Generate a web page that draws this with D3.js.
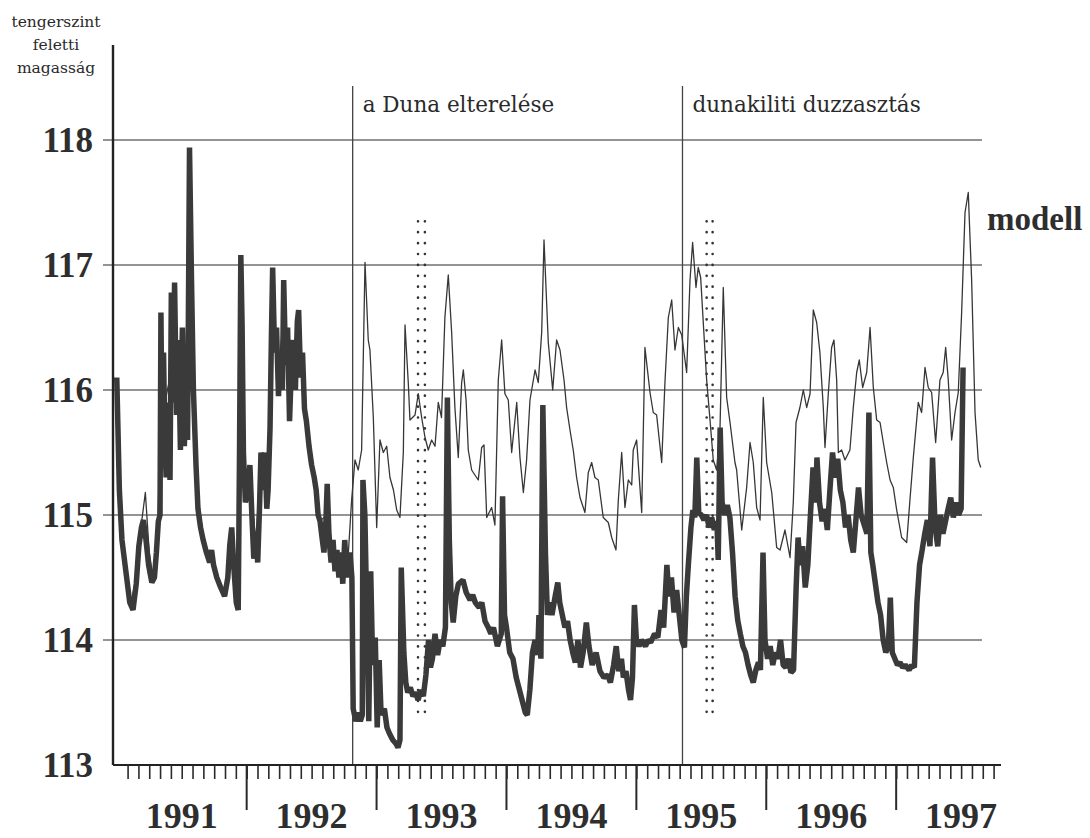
<!DOCTYPE html>
<html>
<head>
<meta charset="utf-8">
<script src="https://cdn.jsdelivr.net/npm/d3@7"></script>
<style>
  body { margin: 0; background: #fff; }
  svg { display: block; }
</style>
</head>
<body>
<svg id="chart" width="1090" height="838"></svg>
<script>
// Groundwater level (m above sea level), decimal-year time axis
const levelTicks = [113, 114, 115, 116, 117, 118];
const years = [1991, 1992, 1993, 1994, 1995, 1996, 1997];
const events = [
  { t: 1992.816, label: "a Duna elterelése" },
  { t: 1995.355, label: "dunakiliti duzzasztás" }
];
const markerPairs = [[1993.319, 1993.372], [1995.541, 1995.587]];
const markerRange = [113.35, 117.35];
const seriesLabel = "modell";
const axisTitle = ["tengerszint", "feletti", "magasság"];

// measured levels [decimal year, m]
const measured = [
  [1991.00,116.10],[1991.02,115.20],[1991.04,114.80],[1991.07,114.55],[1991.10,114.30],[1991.125,114.24],
  [1991.15,114.45],[1991.17,114.75],[1991.19,114.90],[1991.205,114.96],[1991.225,114.80],[1991.245,114.60],
  [1991.27,114.46],[1991.29,114.50],[1991.305,114.70],[1991.32,114.95],[1991.333,115.00],[1991.34,116.62],
  [1991.35,115.40],[1991.36,116.30],[1991.37,115.60],[1991.38,115.30],[1991.395,115.90],[1991.41,115.28],
  [1991.42,116.78],[1991.435,115.90],[1991.445,116.86],[1991.46,115.80],[1991.475,116.40],[1991.49,115.52],
  [1991.505,116.50],[1991.52,115.55],[1991.535,116.00],[1991.545,115.60],[1991.56,117.94],[1991.575,116.90],
  [1991.59,116.00],[1991.61,115.40],[1991.625,115.05],[1991.645,114.90],[1991.665,114.80],[1991.69,114.70],
  [1991.715,114.62],[1991.73,114.72],[1991.745,114.60],[1991.77,114.50],[1991.80,114.42],[1991.83,114.35],
  [1991.855,114.50],[1991.87,114.76],[1991.885,114.90],[1991.90,114.60],[1991.92,114.30],[1991.935,114.24],
  [1991.945,115.50],[1991.955,117.08],[1991.965,116.50],[1991.975,115.50],[1991.99,115.10],[1992.01,115.20],
  [1992.025,115.40],[1992.04,115.00],[1992.055,114.65],[1992.07,114.85],[1992.085,114.62],[1992.10,115.10],
  [1992.11,115.50],[1992.125,115.20],[1992.14,115.50],[1992.155,115.05],[1992.165,115.20],[1992.18,115.70],
  [1992.19,116.40],[1992.20,116.98],[1992.215,116.30],[1992.23,116.50],[1992.245,115.95],[1992.26,116.30],
  [1992.275,116.00],[1992.285,116.88],[1992.30,116.20],[1992.315,116.50],[1992.33,115.75],[1992.345,116.20],
  [1992.36,116.40],[1992.375,116.00],[1992.39,116.55],[1992.40,116.64],[1992.415,116.10],[1992.43,116.30],
  [1992.445,115.85],[1992.46,115.75],[1992.48,115.55],[1992.50,115.40],[1992.52,115.30],[1992.535,115.20],
  [1992.55,115.00],[1992.565,114.95],[1992.58,114.82],[1992.595,114.70],[1992.61,114.95],[1992.62,115.25],
  [1992.635,114.80],[1992.65,114.62],[1992.665,114.80],[1992.68,114.55],[1992.695,114.72],[1992.71,114.50],
  [1992.725,114.70],[1992.74,114.45],[1992.755,114.80],[1992.77,114.50],[1992.795,114.70],[1992.81,114.50],
  [1992.82,113.45],[1992.84,113.35],[1992.86,113.42],[1992.875,113.35],[1992.89,113.40],[1992.895,115.28],
  [1992.91,115.00],[1992.925,114.20],[1992.94,113.35],[1992.955,114.55],[1992.97,113.80],[1992.99,114.02],
  [1993.005,113.30],[1993.02,113.84],[1993.035,113.40],[1993.06,113.45],[1993.08,113.30],[1993.10,113.25],
  [1993.125,113.20],[1993.15,113.17],[1993.165,113.14],[1993.18,113.20],[1993.19,114.58],[1993.21,113.90],
  [1993.225,113.66],[1993.24,113.58],[1993.26,113.62],[1993.28,113.55],[1993.30,113.58],[1993.32,113.52],
  [1993.34,113.60],[1993.36,113.55],[1993.38,113.72],[1993.40,114.00],[1993.415,113.78],[1993.43,113.85],
  [1993.45,114.05],[1993.47,113.88],[1993.49,114.00],[1993.51,113.95],[1993.53,114.10],[1993.545,115.94],
  [1993.56,114.80],[1993.575,114.30],[1993.59,114.14],[1993.61,114.35],[1993.63,114.45],[1993.665,114.48],
  [1993.69,114.38],[1993.72,114.32],[1993.74,114.36],[1993.76,114.30],[1993.79,114.26],[1993.81,114.30],
  [1993.835,114.15],[1993.86,114.10],[1993.88,114.05],[1993.90,114.10],[1993.93,113.95],[1993.96,114.05],
  [1993.97,115.15],[1993.985,114.20],[1994.00,114.10],[1994.025,113.90],[1994.05,113.85],[1994.075,113.70],
  [1994.10,113.60],[1994.125,113.50],[1994.145,113.42],[1994.16,113.40],[1994.18,113.60],[1994.20,113.90],
  [1994.22,114.00],[1994.24,113.88],[1994.25,114.20],[1994.265,113.85],[1994.28,115.88],[1994.30,114.70],
  [1994.315,114.20],[1994.33,114.30],[1994.35,114.20],[1994.375,114.35],[1994.395,114.46],[1994.41,114.30],
  [1994.43,114.20],[1994.45,114.10],[1994.47,114.15],[1994.49,114.00],[1994.51,113.90],[1994.53,113.82],
  [1994.55,114.00],[1994.57,113.78],[1994.59,113.90],[1994.615,114.14],[1994.635,113.95],[1994.66,113.80],
  [1994.69,113.90],[1994.72,113.75],[1994.75,113.70],[1994.78,113.72],[1994.80,113.66],[1994.825,113.80],
  [1994.845,113.95],[1994.865,113.75],[1994.885,113.85],[1994.90,113.70],[1994.92,113.75],[1994.94,113.60],
  [1994.955,113.52],[1994.97,113.70],[1994.985,114.28],[1995.00,114.00],[1995.02,113.95],[1995.04,114.00],
  [1995.07,113.95],[1995.09,114.00],[1995.11,113.98],[1995.14,114.05],[1995.165,114.02],[1995.19,114.24],
  [1995.21,114.10],[1995.235,114.60],[1995.25,114.35],[1995.27,114.50],[1995.29,114.22],[1995.31,114.40],
  [1995.33,114.20],[1995.35,114.00],[1995.37,113.94],[1995.385,114.35],[1995.40,114.60],[1995.42,114.90],
  [1995.435,115.04],[1995.45,114.98],[1995.465,115.46],[1995.48,115.02],[1995.50,115.00],[1995.52,114.96],
  [1995.54,115.00],[1995.56,114.90],[1995.58,114.98],[1995.60,114.88],[1995.62,114.95],[1995.63,114.64],
  [1995.645,115.70],[1995.66,115.10],[1995.68,115.00],[1995.70,115.08],[1995.72,114.98],[1995.74,114.70],
  [1995.76,114.35],[1995.78,114.16],[1995.80,114.05],[1995.82,113.95],[1995.84,113.90],[1995.86,113.80],
  [1995.88,113.72],[1995.90,113.66],[1995.92,113.76],[1995.94,113.82],[1995.955,113.76],[1995.975,114.70],
  [1995.99,114.00],[1996.01,113.85],[1996.03,113.95],[1996.05,113.80],[1996.07,113.90],[1996.09,113.85],
  [1996.11,114.00],[1996.13,113.80],[1996.15,113.78],[1996.17,113.85],[1996.19,113.74],[1996.21,113.76],
  [1996.23,114.42],[1996.245,114.82],[1996.26,114.60],[1996.28,114.75],[1996.30,114.42],[1996.32,114.60],
  [1996.34,115.00],[1996.36,115.38],[1996.38,115.10],[1996.39,115.46],[1996.41,115.10],[1996.43,114.95],
  [1996.45,115.05],[1996.47,114.88],[1996.49,115.20],[1996.51,115.50],[1996.53,115.30],[1996.55,115.45],
  [1996.57,115.20],[1996.59,115.10],[1996.61,114.90],[1996.63,115.00],[1996.65,114.80],[1996.67,114.70],
  [1996.69,114.96],[1996.71,115.22],[1996.73,115.00],[1996.76,114.90],[1996.775,114.85],[1996.79,115.82],
  [1996.805,114.70],[1996.82,114.60],[1996.84,114.45],[1996.86,114.30],[1996.88,114.20],[1996.90,114.00],
  [1996.92,113.90],[1996.94,113.95],[1996.955,114.34],[1996.97,113.90],[1996.99,113.85],[1997.01,113.80],
  [1997.03,113.82],[1997.05,113.78],[1997.07,113.80],[1997.10,113.76],[1997.12,113.80],[1997.14,113.78],
  [1997.16,114.30],[1997.18,114.60],[1997.20,114.72],[1997.22,114.85],[1997.24,114.96],[1997.26,114.75],
  [1997.28,115.46],[1997.30,114.90],[1997.32,114.75],[1997.34,115.00],[1997.36,114.85],[1997.38,114.95],
  [1997.40,115.05],[1997.42,115.14],[1997.44,114.98],[1997.46,115.10],[1997.48,115.00],[1997.50,115.05],
  [1997.515,116.18]
];

// model levels [decimal year, m]
const model = [
  [1991.00,115.90],[1991.02,115.10],[1991.05,114.70],[1991.08,114.45],[1991.11,114.30],[1991.14,114.45],
  [1991.18,114.85],[1991.22,115.18],[1991.25,114.70],[1991.28,114.50],[1991.31,114.75],[1991.335,115.60],
  [1991.37,115.90],[1991.41,116.10],[1991.45,116.30],[1991.49,116.00],[1991.53,116.20],[1991.56,117.40],
  [1991.59,116.20],[1991.63,115.10],[1991.67,114.80],[1991.72,114.65],[1991.77,114.50],[1991.83,114.38],
  [1991.87,114.75],[1991.90,114.65],[1991.935,114.30],[1991.955,116.60],[1991.98,115.30],[1992.03,115.20],
  [1992.07,114.80],[1992.11,115.40],[1992.16,115.20],[1992.20,116.70],[1992.24,116.10],[1992.285,116.60],
  [1992.33,116.00],[1992.40,116.50],[1992.45,115.85],[1992.50,115.40],[1992.56,114.95],[1992.62,115.00],
  [1992.68,114.65],[1992.74,114.55],[1992.78,114.65],[1992.808,115.12],[1992.834,115.44],[1992.859,115.36],
  [1992.885,115.52],[1992.911,117.02],[1992.936,116.40],[1992.949,116.32],[1992.975,115.78],[1993.001,114.90],
  [1993.026,115.60],[1993.052,115.50],[1993.078,115.55],[1993.103,115.30],[1993.13,115.20],[1993.155,115.04],
  [1993.18,114.98],[1993.206,115.50],[1993.219,116.52],[1993.244,116.06],[1993.257,115.76],[1993.296,115.80],
  [1993.321,115.97],[1993.347,115.78],[1993.373,115.62],[1993.398,115.52],[1993.424,115.60],[1993.45,115.55],
  [1993.475,115.90],[1993.50,115.78],[1993.526,116.58],[1993.552,116.92],[1993.578,116.46],[1993.603,115.86],
  [1993.629,115.46],[1993.655,116.06],[1993.668,116.16],[1993.689,115.92],[1993.706,115.52],[1993.732,115.36],
  [1993.757,115.32],[1993.783,115.28],[1993.809,115.54],[1993.827,115.56],[1993.848,114.98],[1993.886,115.06],
  [1993.911,114.92],[1993.937,116.08],[1993.963,116.40],[1993.988,115.97],[1994.014,115.92],[1994.04,115.50],
  [1994.079,115.90],[1994.104,115.46],[1994.13,115.18],[1994.155,115.44],[1994.181,115.92],[1994.22,116.16],
  [1994.245,116.06],[1994.271,116.46],[1994.289,117.20],[1994.322,116.38],[1994.356,116.00],[1994.386,116.40],
  [1994.412,116.32],[1994.443,116.08],[1994.463,115.86],[1994.489,115.68],[1994.514,115.52],[1994.54,115.30],
  [1994.566,115.14],[1994.604,115.02],[1994.63,115.34],[1994.656,115.42],[1994.681,115.30],[1994.707,115.28],
  [1994.745,114.98],[1994.784,114.94],[1994.81,114.82],[1994.843,114.72],[1994.861,115.12],[1994.887,115.50],
  [1994.912,115.06],[1994.938,115.28],[1994.964,115.24],[1994.976,115.52],[1995.002,115.60],[1995.041,115.02],
  [1995.066,116.34],[1995.105,115.98],[1995.13,115.82],[1995.156,115.80],[1995.195,115.42],[1995.22,116.06],
  [1995.246,116.58],[1995.272,116.72],[1995.297,116.32],[1995.323,116.50],[1995.349,116.44],[1995.387,116.14],
  [1995.413,116.88],[1995.433,117.18],[1995.459,116.82],[1995.476,116.98],[1995.495,116.90],[1995.515,116.54],
  [1995.541,116.08],[1995.567,115.76],[1995.592,115.44],[1995.618,115.36],[1995.644,115.70],[1995.669,116.82],
  [1995.695,115.94],[1995.721,115.74],[1995.759,115.42],[1995.772,115.36],[1995.811,114.88],[1995.849,115.22],
  [1995.875,115.58],[1995.90,115.42],[1995.926,115.06],[1995.952,114.96],[1995.977,115.94],[1996.003,115.42],
  [1996.042,115.18],[1996.08,114.74],[1996.106,114.72],[1996.144,114.88],[1996.183,114.66],[1996.208,115.10],
  [1996.229,115.74],[1996.259,115.86],[1996.285,116.00],[1996.311,115.86],[1996.337,115.97],[1996.362,116.64],
  [1996.388,116.54],[1996.413,116.30],[1996.439,115.86],[1996.452,115.54],[1996.478,115.98],[1996.503,116.34],
  [1996.521,116.40],[1996.542,116.08],[1996.555,115.50],[1996.58,115.52],[1996.606,115.44],[1996.644,115.52],
  [1996.67,115.86],[1996.696,116.14],[1996.716,116.24],[1996.742,116.02],[1996.773,116.14],[1996.799,116.50],
  [1996.824,116.02],[1996.85,115.76],[1996.876,115.74],[1996.901,115.58],[1996.927,115.42],[1996.953,115.28],
  [1996.978,115.22],[1997.004,115.04],[1997.042,114.82],[1997.081,114.78],[1997.106,115.12],[1997.132,115.46],
  [1997.17,115.90],[1997.196,115.82],[1997.222,116.18],[1997.247,116.02],[1997.273,115.98],[1997.304,115.58],
  [1997.337,116.08],[1997.362,116.14],[1997.381,116.34],[1997.401,116.08],[1997.427,115.60],[1997.453,115.82],
  [1997.478,115.98],[1997.504,116.62],[1997.53,117.42],[1997.555,117.58],[1997.581,116.88],[1997.607,115.82],
  [1997.632,115.44],[1997.651,115.38]
];

const svg = d3.select("#chart");

const x = d3.scaleLinear().domain([1990.971, 1997.807]).range([113, 1001]);
const y = d3.scaleLinear().domain([113, 118]).range([765, 140]);

// horizontal grid
svg.append("g")
  .selectAll("line")
  .data(levelTicks.filter(v => v > 113))
  .join("line")
  .attr("x1", 103).attr("x2", 982)
  .attr("y1", d => y(d)).attr("y2", d => y(d))
  .attr("stroke", "#707070").attr("stroke-width", 1.4);

// event lines with labels
const ev = svg.append("g");
ev.selectAll("line")
  .data(events)
  .join("line")
  .attr("x1", d => x(d.t)).attr("x2", d => x(d.t))
  .attr("y1", 86).attr("y2", y(113))
  .attr("stroke", "#444").attr("stroke-width", 1.3);
ev.selectAll("text")
  .data(events)
  .join("text")
  .attr("x", d => x(d.t) + 10)
  .attr("y", 112)
  .attr("font-family", "DejaVu Serif, serif")
  .attr("font-size", 21.5)
  .attr("fill", "#2a2a2a")
  .text(d => d.label);

// dotted marker pairs
const mk = svg.append("g");
markerPairs.forEach(pair => {
  pair.forEach(t => {
    mk.append("line")
      .attr("x1", x(t)).attr("x2", x(t))
      .attr("y1", y(markerRange[1])).attr("y2", y(markerRange[0]))
      .attr("stroke", "#333").attr("stroke-width", 2.6)
      .attr("stroke-linecap", "round")
      .attr("stroke-dasharray", "0.1 10.8");
  });
});

// model series (thin)
const line = d3.line().x(d => x(d[0])).y(d => y(d[1]));
svg.append("path")
  .datum(model)
  .attr("d", line)
  .attr("fill", "none")
  .attr("stroke", "#363636")
  .attr("stroke-width", 1.3)
  .attr("stroke-linejoin", "round");

// measured series (thick)
svg.append("path")
  .datum(measured)
  .attr("d", line)
  .attr("fill", "none")
  .attr("stroke", "#3a3a3a")
  .attr("stroke-width", 5.5)
  .attr("stroke-linejoin", "bevel");

// left axis line
svg.append("line")
  .attr("x1", 113).attr("x2", 113)
  .attr("y1", 45).attr("y2", y(113))
  .attr("stroke", "#222").attr("stroke-width", 2.4);

// y tick labels
const yAxis = d3.axisLeft(y).tickValues(levelTicks).tickSize(0).tickPadding(20).tickFormat(d3.format("d"));
const yg = svg.append("g").attr("transform", "translate(113,0)").call(yAxis);
yg.select(".domain").remove();
yg.selectAll("text")
  .attr("font-family", "Liberation Serif, Times New Roman, serif")
  .attr("font-weight", "bold")
  .attr("font-size", 35)
  .attr("fill", "#2e2e2e");

// x axis: monthly ticks
const monthTicks = [];
years.forEach(yr => {
  for (let m = 0; m < 12; m++) {
    const t = yr + m / 12;
    if (t > 1991.05 && t <= 1997.76) monthTicks.push(t);
  }
});
const xAxis = d3.axisBottom(x).tickValues(monthTicks).tickSize(14).tickFormat("");
const xg = svg.append("g").attr("transform", `translate(0,${y(113)})`).call(xAxis);
xg.select(".domain").attr("d", "M113,0H1001").attr("stroke", "#222").attr("stroke-width", 2.2);
xg.selectAll(".tick line").attr("stroke", "#2a2a2a").attr("stroke-width", 1.6);

// year boundary ticks
svg.append("g")
  .selectAll("line")
  .data(years.slice(1))
  .join("line")
  .attr("x1", d => x(d)).attr("x2", d => x(d))
  .attr("y1", y(113)).attr("y2", y(113) + 45)
  .attr("stroke", "#2a2a2a").attr("stroke-width", 2);

// year labels centred on each year
svg.append("g")
  .selectAll("text")
  .data(years)
  .join("text")
  .attr("x", d => x(d + 0.5))
  .attr("y", 828)
  .attr("text-anchor", "middle")
  .attr("font-family", "Liberation Serif, Times New Roman, serif")
  .attr("font-weight", "bold")
  .attr("font-size", 36)
  .attr("fill", "#2e2e2e")
  .text(d => d);

// axis title
svg.append("text")
  .attr("font-family", "DejaVu Serif, serif")
  .attr("font-size", 15.5)
  .attr("fill", "#2a2a2a")
  .attr("text-anchor", "middle")
  .selectAll("tspan")
  .data(axisTitle)
  .join("tspan")
  .attr("x", 56)
  .attr("y", (d, i) => 27 + i * 23)
  .text(d => d);

// series label
svg.append("text")
  .attr("x", 987).attr("y", 230)
  .attr("font-family", "Liberation Serif, Times New Roman, serif")
  .attr("font-weight", "bold")
  .attr("font-size", 33)
  .attr("fill", "#2e2e2e")
  .text(seriesLabel);
</script>
</body>
</html>
